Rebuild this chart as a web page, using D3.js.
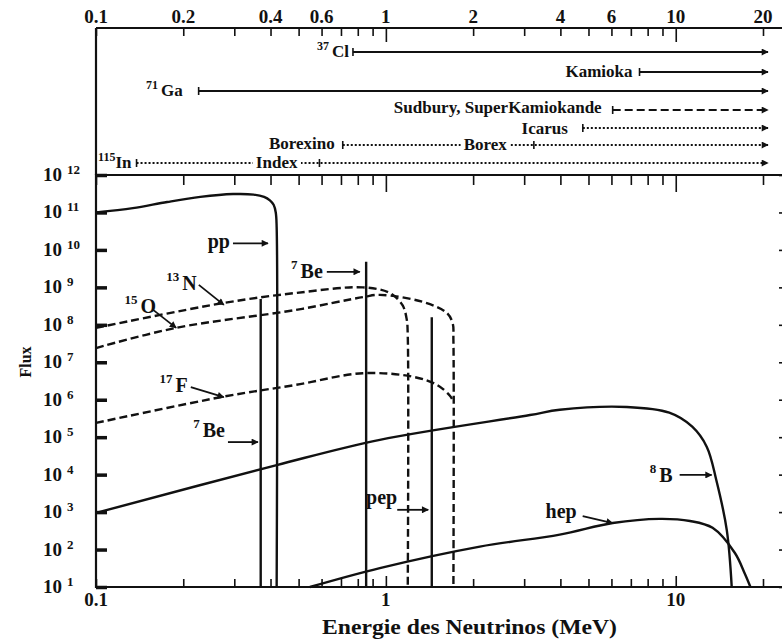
<!DOCTYPE html>
<html>
<head>
	<meta charset="utf-8">
	<title>Flux des neutrinos solaires</title>
	<style type="text/css">
		body { margin: 0; background-color: #fff; }
		svg { display: block; background-color: #fff; }
		.lbl { font-family: 'Liberation Serif', 'DejaVu Serif', serif; font-weight: bold; fill: #111; }
		.axis line { stroke: #111; stroke-width: 1.6px; }
		.frame { stroke: #111; stroke-width: 2.2px; fill: none; }
	</style>
	<script src="https://cdn.jsdelivr.net/npm/d3@7"></script>
</head>
<body>
	<div id="chart"></div>
	<script type="text/javascript">
		// ---- values ----
		var energyTicks = [0.1, 0.2, 0.4, 0.6, 1, 2, 4, 6, 10, 20];
		var bottomTicks = [0.1, 1, 10];
		var fluxExponents = [1, 2, 3, 4, 5, 6, 7, 8, 9, 10, 11, 12];

		// continuous spectra (energy MeV, flux)
		var ppE = [0.1, 0.134, 0.176, 0.229, 0.297, 0.35, 0.38, 0.398, 0.41, 0.417, 0.42, 0.42];
		var ppF = [1.0e11, 1.3e11, 1.9e11, 2.6e11, 3.1e11, 3.0e11, 2.6e11, 2.1e11, 1.6e11, 1.0e11, 4e10, 10];

		var n13E = [0.1, 0.274, 0.49, 0.833, 1.03, 1.14, 1.18, 1.19, 1.19];
		var n13F = [8.3e7, 3.8e8, 7.1e8, 1.0e9, 7.1e8, 3.4e8, 1.4e8, 5e7, 10];

		var o15E = [0.1, 0.189, 0.49, 0.833, 0.953, 1.34, 1.62, 1.70, 1.71, 1.71];
		var o15F = [2.4e7, 8.3e7, 2.5e8, 5.5e8, 6.3e8, 4.1e8, 2.1e8, 1.1e8, 4e7, 10];

		var f17E = [0.1, 0.274, 0.49, 0.833, 1.24, 1.5, 1.66, 1.71];
		var f17F = [2.4e5, 1.2e6, 2.5e6, 5.1e6, 4.1e6, 2.5e6, 1.3e6, 9e5];

		var b8E = [0.1, 0.42, 0.953, 3.14, 3.98, 6.78, 9.5, 11.4, 12.8, 13.8, 15.0, 15.6];
		var b8F = [9.5e2, 1.8e4, 8.5e4, 3.9e5, 5.4e5, 6.4e5, 4.5e5, 1.9e5, 5.5e4, 7.2e3, 3.3e2, 10];

		var hepE = [0.547, 0.953, 2.11, 3.98, 6.06, 8.8, 11.2, 13.4, 16, 17.3, 18.1];
		var hepF = [10, 32, 1.2e2, 2.5e2, 5.1e2, 6.6e2, 5.8e2, 3.8e2, 81, 23, 10];

		// line spectra: 7Be (two lines) and pep
		var lineE = [0.37, 0.855, 1.44];
		var lineTop = [4.9e8, 4.8e9, 1.6e8];

		// detector thresholds (top panel), one row each
		var detIso = ['37', '', '71', '', '', '', '115'];
		var detName = ['Cl', 'Kamioka', 'Ga', 'Sudbury, SuperKamiokande', 'Icarus', 'Borexino', 'In'];
		var detThreshold = [0.77, 7.5, 0.226, 6.06, 4.78, 0.71, 0.138];
		var detStyle = ['solid', 'solid', 'solid', 'dashed', 'dotted', 'dotted', 'dotted'];
		// second experiments sharing a row
		var secName = ['Borex', 'Index'];
		var secRow = [5, 6];
		var secThreshold = [3.24, 0.59];

		// spectrum labels: arrow tip in data units
		var annIso = ['', '7', '13', '15', '17', '7', '', '8', ''];
		var annName = ['pp', 'Be', 'N', 'O', 'F', 'Be', 'pep', 'B', 'hep'];
		var annTipE = [0.392, 0.813, 0.276, 0.189, 0.276, 0.362, 1.40, 13.3, 6.06];
		var annTipF = [1.5e10, 2.6e9, 3.4e8, 8.3e7, 1.17e6, 7.4e4, 1.15e3, 9.8e3, 5.1e2];

		// ---- layout ----
		var width = 782, height = 640;
		var topAxisY = 28, panelTop = 175, panelBottom = 587, leftX = 96, rightX = 786;
		var rowY = [52, 72, 91, 110, 128, 145, 163];
		var labelGap = [4, 7, 16, 11, 15, 8, 5];
		var labelDy = [5, 5, 5, 3, 6, 4, 5];
		// offsets of arrow tail and label end from the arrow tip
		var annTail = [[-35, 0], [-33, 0], [-25, -20], [-23, -18], [-33, -10], [-30, 0], [-31, 0], [-32, 0], [-30, -7]];
		var annLabel = [[-38, 5], [-37, 6], [-27, -15], [-20, -15], [-36, -5], [-33, -5], [-31, -6], [-39, 7], [-36, -5]];

		var svg = d3.select('#chart')
			.append('svg')
			.attr('width', width)
			.attr('height', height);

		var xScale = d3.scaleLog().domain([0.1, 20]).range([96, 763]);
		var yScale = d3.scaleLog().domain([10, 1e12]).range([panelBottom, panelTop]);

		function isMajor(v) {
			var l = Math.log10(v);
			return Math.abs(l - Math.round(l)) < 1e-6;
		}

		svg.append('defs').append('marker')
			.attr('id', 'arr')
			.attr('viewBox', '0 0 10 10')
			.attr('refX', 9).attr('refY', 5)
			.attr('markerWidth', 9).attr('markerHeight', 7)
			.attr('markerUnits', 'userSpaceOnUse')
			.attr('orient', 'auto')
			.append('path').attr('d', 'M0,0 L10,5 L0,10 Z').attr('fill', '#111');

		// ---- top panel: energy axis ----
		svg.append('g').attr('class', 'axis')
			.attr('transform', 'translate(0,' + topAxisY + ')')
			.call(d3.axisBottom(xScale).tickSizeOuter(0).tickFormat(''))
			.call(function(g){ g.select('.domain').remove(); })
			.selectAll('.tick line')
			.attr('y2', function(d){ return (isMajor(d) && d > 0.1) ? 14 : 8; });

		svg.selectAll('.topLbl')
			.data(energyTicks)
			.enter()
			.append('text')
			.attr('class', 'lbl')
			.attr('x', function(d){ return xScale(d); })
			.attr('y', 23)
			.attr('text-anchor', 'middle')
			.style('font-size', '19px')
			.text(function(d){ return d; });

		svg.append('line').attr('class', 'frame')
			.attr('x1', leftX).attr('x2', width).attr('y1', topAxisY).attr('y2', topAxisY);
		svg.append('line').attr('class', 'frame')
			.attr('x1', leftX).attr('x2', leftX).attr('y1', topAxisY).attr('y2', panelTop);

		// detector rows
		var dashes = { solid: null, dashed: '8,4', dotted: '2,2' };
		detName.forEach(function(name, i){
			var x0 = xScale(detThreshold[i]), x1 = xScale(20) + 5, yy = rowY[i];
			svg.append('line')
				.attr('x1', x0).attr('x2', x1).attr('y1', yy).attr('y2', yy)
				.attr('stroke', '#111')
				.attr('stroke-width', detStyle[i] == 'solid' ? 2 : 1.8)
				.attr('stroke-dasharray', dashes[detStyle[i]])
				.attr('marker-end', 'url(#arr)');
			svg.append('line')
				.attr('x1', x0).attr('x2', x0).attr('y1', yy - 4).attr('y2', yy + 4)
				.attr('stroke', '#111').attr('stroke-width', 1.6);
			var t = svg.append('text')
				.attr('class', 'lbl')
				.attr('x', x0 - labelGap[i])
				.attr('y', yy + labelDy[i])
				.attr('text-anchor', 'end')
				.style('font-size', '17px');
			if (detIso[i]) {
				t.append('tspan').style('font-size', '12px').attr('dy', -7).text(detIso[i]);
				t.append('tspan').attr('dy', 7).attr('dx', i == 6 ? 0 : 3).text(name);
			} else {
				t.text(name);
			}
		});

		secName.forEach(function(name, i){
			var yy = rowY[secRow[i]], x0 = xScale(secThreshold[i]);
			var t = svg.append('text')
				.attr('class', 'lbl')
				.attr('x', x0 - (i == 0 ? 27 : 22))
				.attr('y', yy + 5)
				.attr('text-anchor', 'end')
				.style('font-size', '17px')
				.text(name);
			var bb = t.node().getBBox();
			svg.insert('rect', function(){ return t.node(); })
				.attr('x', bb.x - 3).attr('y', yy - 3).attr('width', bb.width + 6).attr('height', 6)
				.attr('fill', '#fff');
			svg.append('line')
				.attr('x1', x0).attr('x2', x0).attr('y1', yy - 4).attr('y2', yy + 4)
				.attr('stroke', '#111').attr('stroke-width', 1.6);
		});

		// ---- bottom panel axes ----
		var yTicks = yScale.ticks();

		svg.append('g').attr('class', 'axis')
			.attr('transform', 'translate(0,' + panelTop + ')')
			.call(d3.axisBottom(xScale).tickSizeOuter(0).tickFormat(''))
			.call(function(g){ g.select('.domain').remove(); })
			.selectAll('.tick line')
			.attr('y2', function(d){ return (isMajor(d) && d > 0.1) ? 17 : 10; });

		svg.append('g').attr('class', 'axis')
			.attr('transform', 'translate(0,' + panelBottom + ')')
			.call(d3.axisTop(xScale).tickSizeOuter(0).tickFormat(''))
			.call(function(g){ g.select('.domain').remove(); })
			.selectAll('.tick line')
			.attr('y2', function(d){ return (isMajor(d) && d > 0.1) ? -11 : -8; });

		svg.append('g').attr('class', 'axis')
			.attr('transform', 'translate(' + leftX + ',0)')
			.call(d3.axisRight(yScale).tickValues(yTicks).tickSizeOuter(0).tickFormat(''))
			.call(function(g){ g.select('.domain').remove(); })
			.selectAll('.tick line')
			.attr('x2', function(d){ return isMajor(d) ? 11 : 8; })
			.style('stroke-width', function(d){ return isMajor(d) ? 3.5 : 2; });

		svg.append('g').attr('class', 'axis')
			.attr('transform', 'translate(' + rightX + ',0)')
			.call(d3.axisLeft(yScale).tickValues(fluxExponents.map(function(e){ return Math.pow(10, e); }))
				.tickSize(7).tickSizeOuter(0).tickFormat(''))
			.call(function(g){ g.select('.domain').remove(); });

		svg.append('path').attr('class', 'frame')
			.attr('d', 'M' + (width + 2) + ',' + panelTop + 'H' + leftX + 'V' + panelBottom + 'H' + (width + 2));

		// y labels 10^n
		var yl = svg.selectAll('.yLbl')
			.data(fluxExponents)
			.enter()
			.append('g');
		yl.append('text')
			.attr('class', 'lbl')
			.attr('x', 43)
			.attr('y', function(d){ return yScale(Math.pow(10, d)) + 6; })
			.style('font-size', '19px')
			.text('10');
		yl.append('text')
			.attr('class', 'lbl')
			.attr('x', 67)
			.attr('y', function(d){ return yScale(Math.pow(10, d)) - 1; })
			.style('font-size', '13px')
			.text(function(d){ return d; });

		svg.append('text')
			.attr('class', 'lbl')
			.attr('transform', 'translate(31,362) rotate(-90)')
			.attr('text-anchor', 'middle')
			.style('font-size', '16px')
			.text('Flux');

		svg.selectAll('.botLbl')
			.data(bottomTicks)
			.enter()
			.append('text')
			.attr('class', 'lbl')
			.attr('x', function(d){ return xScale(d); })
			.attr('y', 606)
			.attr('text-anchor', 'middle')
			.style('font-size', '19px')
			.text(function(d){ return d; });

		svg.append('text')
			.attr('class', 'lbl')
			.attr('x', 322)
			.attr('y', 634)
			.attr('textLength', 295)
			.attr('lengthAdjust', 'spacingAndGlyphs')
			.style('font-size', '20px')
			.text('Energie des Neutrinos (MeV)');

		// ---- spectra ----
		var line = d3.line()
			.x(function(d){ return xScale(d[0]); })
			.y(function(d){ return yScale(d[1]); })
			.curve(d3.curveCatmullRom.alpha(0.5));

		var spectra = [
			{ e: ppE, f: ppF, dash: null },
			{ e: n13E, f: n13F, dash: '8,4' },
			{ e: o15E, f: o15F, dash: '8,4' },
			{ e: f17E, f: f17F, dash: '8,4' },
			{ e: b8E, f: b8F, dash: null },
			{ e: hepE, f: hepF, dash: null }
		];

		svg.selectAll('.spec')
			.data(spectra)
			.enter()
			.append('path')
			.attr('d', function(s){ return line(d3.zip(s.e, s.f)); })
			.attr('fill', 'none')
			.attr('stroke', '#111')
			.attr('stroke-width', 2.4)
			.attr('stroke-dasharray', function(s){ return s.dash; });

		svg.selectAll('.lineSpec')
			.data(lineE)
			.enter()
			.append('line')
			.attr('x1', function(d){ return xScale(d); })
			.attr('x2', function(d){ return xScale(d); })
			.attr('y1', function(d, i){ return yScale(lineTop[i]); })
			.attr('y2', yScale(10))
			.attr('stroke', '#111')
			.attr('stroke-width', 2.4);

		// labels with arrows
		annName.forEach(function(name, i){
			var tx = xScale(annTipE[i]), ty = yScale(annTipF[i]);
			svg.append('line')
				.attr('x1', tx + annTail[i][0]).attr('y1', ty + annTail[i][1])
				.attr('x2', tx).attr('y2', ty)
				.attr('stroke', '#111').attr('stroke-width', 1.8)
				.attr('marker-end', 'url(#arr)');
			var t = svg.append('text')
				.attr('class', 'lbl')
				.attr('x', tx + annLabel[i][0])
				.attr('y', ty + annLabel[i][1])
				.attr('text-anchor', 'end')
				.style('font-size', '20px');
			if (annIso[i]) {
				t.append('tspan').style('font-size', '13px').attr('dy', -9).text(annIso[i]);
				t.append('tspan').attr('dy', 9).attr('dx', 3).text(name);
			} else {
				t.text(name);
			}
		});
	</script>
</body>
</html>
